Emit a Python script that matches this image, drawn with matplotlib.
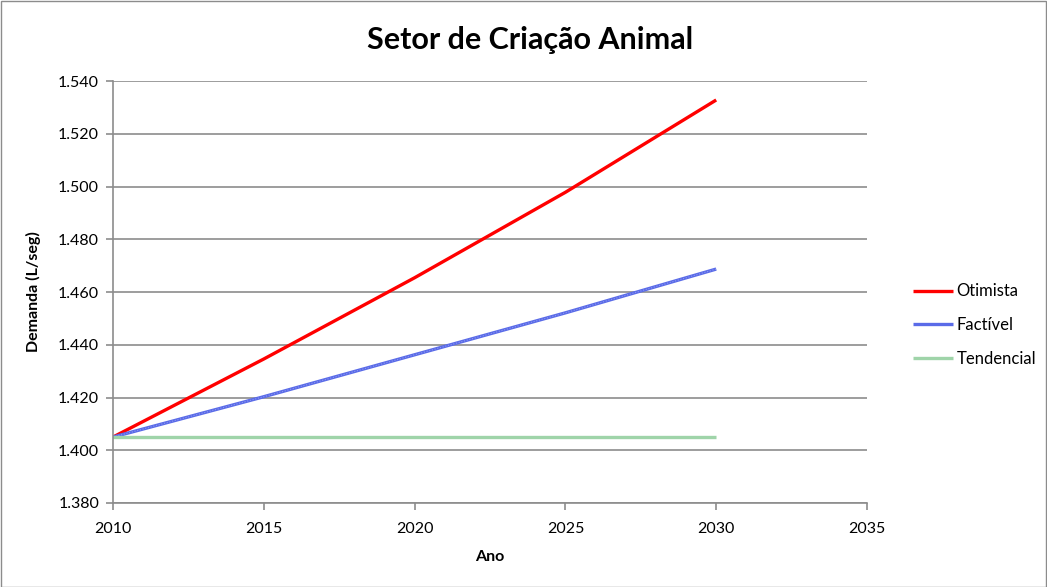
import matplotlib
matplotlib.use("Agg")
import matplotlib.pyplot as plt
from matplotlib.patches import Rectangle

plt.rcParams['font.family'] = ['Lato', 'DejaVu Sans']

years = [2010, 2015, 2020, 2025, 2030]
otimista = [1.405, 1.4346, 1.4654, 1.4978, 1.5328]
factivel = [1.405, 1.4203, 1.4362, 1.4521, 1.4687]
tendencial = [1.405, 1.405, 1.405, 1.405, 1.405]
series_names = ["Otimista", "Factível", "Tendencial"]

W, H = 1047, 587
fig = plt.figure(figsize=(W / 100, H / 100), dpi=100)
ax = fig.add_axes([113 / W, 1 - 503 / H, (867 - 113) / W, (503 - 81) / H])

ax.plot(years, otimista, color="#ff0000", lw=2.4, label=series_names[0], solid_capstyle="butt")
ax.plot(years, factivel, color="#5a6be8", lw=2.4, label=series_names[1], solid_capstyle="butt")
ax.plot(years, factivel, color="#8e9af0", lw=0.8, ls=(0, (1, 1.5)), solid_capstyle="butt")
ax.plot(years, tendencial, color="#9fd4a9", lw=2.4, label=series_names[2], solid_capstyle="butt")

ax.set_xlim(2010, 2035)
ax.set_ylim(1.380, 1.540)
ax.set_xticks(range(2010, 2036, 5))
yt = [1.380 + 0.02 * i for i in range(9)]
ax.set_yticks(yt)
ax.set_yticklabels([f"{v:.3f}" for v in yt])
ax.yaxis.grid(True, color="#8c8c8c", lw=1.2)
ax.set_axisbelow(True)
for s in ["top", "right"]:
    ax.spines[s].set_visible(False)
for s in ["left", "bottom"]:
    ax.spines[s].set_color("#8c8c8c")
    ax.spines[s].set_linewidth(1.2)
ax.tick_params(axis="both", colors="#8c8c8c", labelcolor="black", labelsize=11.5, length=5, width=1.2)
ax.tick_params(axis="x", pad=9)
ax.tick_params(axis="y", pad=5)

ax.set_xlabel("Ano", fontsize=11.5, fontweight="bold", labelpad=10)
ax.set_ylabel("Demanda (L/seg)", fontsize=11.5, fontweight="bold", labelpad=12)
fig.text(530 / W, 1 - 40 / H, "Setor de Criação Animal",
         ha="center", va="center", fontsize=22, fontweight="bold")

leg = ax.legend(loc="center left", bbox_to_anchor=(898 / W, 1 - 325 / H),
                bbox_transform=fig.transFigure, frameon=False, fontsize=12,
                handlelength=2.4, handletextpad=0.2, labelspacing=1.05)

fig.patches.append(Rectangle((0.5 / W, 0.5 / H), 1 - 1.5 / W, 1 - 1.5 / H,
                             transform=fig.transFigure, fill=False, ec="#8c8c8c", lw=1))

fig.savefig("out.png", dpi=100)
